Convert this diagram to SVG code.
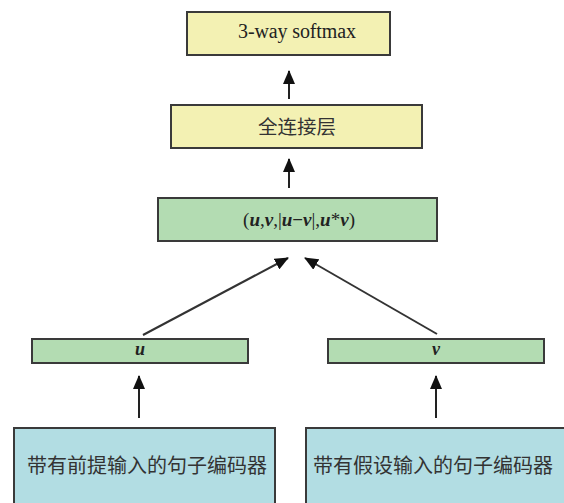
<svg xmlns="http://www.w3.org/2000/svg" width="564" height="503" viewBox="0 0 564 503">
  <style>
    .box { stroke: #3a3a3a; stroke-width: 2; }
    .yellow { fill: #f3f1b3; }
    .green { fill: #b3dcb2; }
    .blue { fill: #b2dde3; }
    .serif { font-family: "Liberation Serif", "Times New Roman", serif; fill: #222; }
    .cjk { font-family: "Noto Sans CJK SC", "Noto Sans", sans-serif; fill: #333; }
    .var { font-weight: bold; font-style: italic; }
    .edge { stroke: #222; stroke-width: 2; fill: none; marker-end: url(#head); }
    .slant { stroke: #333; stroke-width: 2; fill: none; marker-end: url(#head); }
  </style>
  <defs>
    <marker id="head" markerUnits="userSpaceOnUse" markerWidth="14" markerHeight="12" refX="13" refY="6" orient="auto">
      <path d="M0,0 L14,6 L0,12 Z" fill="#111"/>
    </marker>
  </defs>
  <rect width="564" height="503" fill="#ffffff"/>

  <!-- connectors -->
  <g id="connectors">
    <line class="edge" x1="289" y1="99" x2="289" y2="71"/>
    <line class="edge" x1="289" y1="188" x2="289" y2="159"/>
    <line class="slant" x1="143" y1="335" x2="288" y2="258"/>
    <line class="slant" x1="437" y1="334" x2="305" y2="258"/>
    <line class="edge" x1="139" y1="418" x2="139" y2="376"/>
    <line class="edge" x1="436" y1="418" x2="436" y2="376"/>
  </g>

  <g id="softmax">
    <rect class="box yellow" x="187" y="12" width="203" height="43"/>
    <text class="serif" x="238" y="38" font-size="20" textLength="118">3-way softmax</text>
  </g>

  <g id="dense">
    <rect class="box yellow" x="171" y="105" width="251" height="43"/>
    <text class="cjk" x="258" y="134" font-size="19.5" textLength="78">全连接层</text>
  </g>

  <g id="concat">
    <rect class="box green" x="158" y="198" width="279" height="43"/>
    <text class="serif" x="299" y="226" font-size="19" text-anchor="middle">(<tspan class="var">u</tspan>,<tspan class="var">v</tspan>,|<tspan class="var">u</tspan><tspan font-weight="bold">−</tspan><tspan class="var">v</tspan>|,<tspan class="var">u</tspan>*<tspan class="var">v</tspan>)</text>
  </g>

  <g id="vec-u">
    <rect class="box green" x="32" y="339" width="216" height="24"/>
    <text class="serif var" x="140" y="355" font-size="18" text-anchor="middle">u</text>
  </g>

  <g id="vec-v">
    <rect class="box green" x="328" y="339" width="216" height="24"/>
    <text class="serif var" x="436" y="355" font-size="18" text-anchor="middle">v</text>
  </g>

  <g id="premise-encoder">
    <rect class="box blue" x="14" y="428" width="261" height="80"/>
    <text class="cjk" x="27" y="473" font-size="20" textLength="240" lengthAdjust="spacingAndGlyphs">带有前提输入的句子编码器</text>
  </g>

  <g id="hypothesis-encoder">
    <rect class="box blue" x="306" y="428" width="265" height="80"/>
    <text class="cjk" x="313" y="473" font-size="20" textLength="240" lengthAdjust="spacingAndGlyphs">带有假设输入的句子编码器</text>
  </g>
</svg>
